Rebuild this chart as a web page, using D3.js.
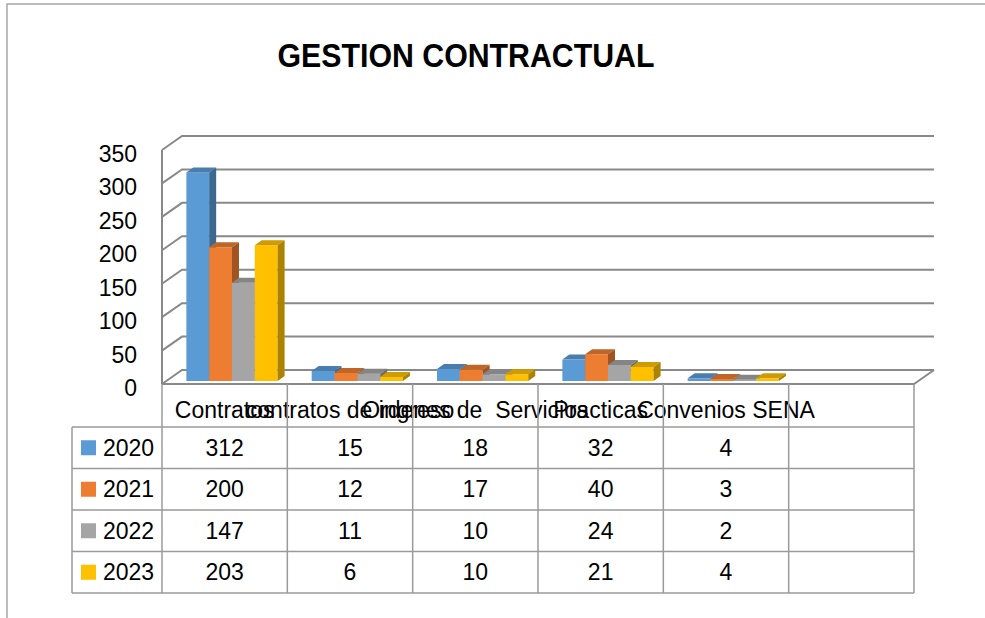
<!DOCTYPE html>
<html>
<head>
<meta charset="utf-8">
<script src="https://cdn.jsdelivr.net/npm/d3@7"></script>
<style>
  body { margin: 0; background: #fff; }
  svg text { font-family: "Liberation Sans", Arial, sans-serif; fill: #000; }
</style>
</head>
<body>
<div id="graphic"></div>
<script>
// chart data
var categories = ["Contratos", "contratos de ingreso", "Ordenes de  Servicios", "Practicas", "Convenios SENA", ""];
var years = ["2020", "2021", "2022", "2023"];
var v2020 = [312, 15, 18, 32, 4];
var v2021 = [200, 12, 17, 40, 3];
var v2022 = [147, 11, 10, 24, 2];
var v2023 = [203, 6, 10, 21, 4];
var yTicks = [0, 50, 100, 150, 200, 250, 300, 350];
var colors = ["#5B9BD5", "#ED7D31", "#A5A5A5", "#FFC000"];

var series = [v2020, v2021, v2022, v2023];

var width = 985, height = 618;
var depth = {dx: 20, dy: -14};   // 3d offset of the back wall

var svg = d3.select("#graphic").append("svg")
  .attr("width", width)
  .attr("height", height);

// outer frame
svg.append("path")
  .attr("d", "M7,620 L7,4 L990,4")
  .attr("fill", "none")
  .attr("stroke", "#a6a6a6")
  .attr("stroke-width", 1.5);

// title
svg.append("text")
  .attr("x", 466)
  .attr("y", 67)
  .attr("text-anchor", "middle")
  .attr("textLength", 377)
  .attr("lengthAdjust", "spacingAndGlyphs")
  .style("font-size", "33px")
  .style("font-weight", "bold")
  .text("GESTION CONTRACTUAL");

// scales (front plane)
var x = d3.scaleBand()
  .domain(categories)
  .range([162, 914]);

var y = d3.scaleLinear()
  .domain([0, 350])
  .range([384, 150]);

var x1 = d3.scaleBand()
  .domain(years)
  .range([x.bandwidth() * 0.16, x.bandwidth() * 0.888]);

var gridColor = "#898989";

// back wall + side wall gridlines
var grid = svg.append("g");
yTicks.forEach(function(t) {
  var yf = y(t);
  grid.append("path")
    .attr("d", "M162," + yf + " L" + (162 + depth.dx) + "," + (yf + depth.dy) +
               " L" + (914 + depth.dx) + "," + (yf + depth.dy))
    .attr("fill", "none")
    .attr("stroke", gridColor)
    .attr("stroke-width", 2);
});
// left wall front edge
grid.append("line")
  .attr("x1", 162).attr("x2", 162)
  .attr("y1", y(350)).attr("y2", y(0))
  .attr("stroke", gridColor).attr("stroke-width", 2);
// floor front edge and right side
grid.append("path")
  .attr("d", "M162," + y(0) + " L914," + y(0) + " L" + (914 + depth.dx) + "," + (y(0) + depth.dy))
  .attr("fill", "none")
  .attr("stroke", gridColor)
  .attr("stroke-width", 2);

// y axis labels
svg.append("g").selectAll("text")
  .data(yTicks)
  .enter().append("text")
  .attr("x", 137)
  .attr("y", function(d) { return y(d) + 12; })
  .attr("text-anchor", "end")
  .style("font-size", "23px")
  .text(function(d) { return d; });

// 3d bars
var off = {dx: 4.3, dy: -3};   // position of the bar front inside the depth
var bd = {dx: 7, dy: -5};      // bar depth
var bars = svg.append("g");
categories.forEach(function(c, ci) {
  years.forEach(function(yr, si) {
    var v = series[si][ci];
    if (v === undefined) return;
    var bx = x(c) + x1(yr) + off.dx;
    var w = x1.bandwidth();
    var top = y(v) + off.dy;
    var bot = y(0) + off.dy;
    var col = d3.color(colors[si]);
    // front
    bars.append("rect")
      .attr("x", bx).attr("y", top)
      .attr("width", w).attr("height", bot - top)
      .attr("fill", col);
    // top
    bars.append("polygon")
      .attr("points", [[bx, top], [bx + w, top], [bx + w + bd.dx, top + bd.dy], [bx + bd.dx, top + bd.dy]].join(" "))
      .attr("fill", col.darker(0.6));
    // side
    bars.append("polygon")
      .attr("points", [[bx + w, top], [bx + w + bd.dx, top + bd.dy], [bx + w + bd.dx, bot + bd.dy], [bx + w, bot]].join(" "))
      .attr("fill", col.darker(1.1));
  });
});

// data table
var rows = d3.scaleBand()
  .domain(years)
  .range([427, 593]);

var tableColor = "#9a9a9a";
var table = svg.append("g");

// header labels
table.selectAll(".cat")
  .data(categories)
  .enter().append("text")
  .attr("class", "cat")
  .attr("x", function(d) { return x(d) + x.bandwidth() / 2; })
  .attr("y", 418)
  .attr("text-anchor", "middle")
  .style("font-size", "23px")
  .style("white-space", "pre")
  .text(function(d) { return d; });

// vertical lines
x.domain().concat(["end"]).forEach(function(c, i) {
  var xx = 162 + i * x.step();
  table.append("line")
    .attr("x1", xx).attr("x2", xx)
    .attr("y1", y(0)).attr("y2", 593)
    .attr("stroke", tableColor).attr("stroke-width", 1.5);
});
// horizontal lines
years.forEach(function(yr) {
  table.append("line")
    .attr("x1", 72).attr("x2", 914)
    .attr("y1", rows(yr)).attr("y2", rows(yr))
    .attr("stroke", tableColor).attr("stroke-width", 1.5);
});
table.append("line")
  .attr("x1", 72).attr("x2", 914)
  .attr("y1", 593).attr("y2", 593)
  .attr("stroke", tableColor).attr("stroke-width", 1.5);
table.append("line")
  .attr("x1", 72).attr("x2", 72)
  .attr("y1", 427).attr("y2", 593)
  .attr("stroke", tableColor).attr("stroke-width", 1.5);

// legend keys + values
years.forEach(function(yr, si) {
  var cy = rows(yr) + rows.bandwidth() / 2;
  table.append("rect")
    .attr("x", 81).attr("y", cy - 7.5)
    .attr("width", 15).attr("height", 15)
    .attr("fill", colors[si]);
  table.append("text")
    .attr("x", 103).attr("y", cy + 8)
    .style("font-size", "23px")
    .text(yr);
  series[si].forEach(function(v, ci) {
    table.append("text")
      .attr("x", x(categories[ci]) + x.bandwidth() / 2)
      .attr("y", cy + 8)
      .attr("text-anchor", "middle")
      .style("font-size", "23px")
      .text(v);
  });
});
</script>
</body>
</html>
